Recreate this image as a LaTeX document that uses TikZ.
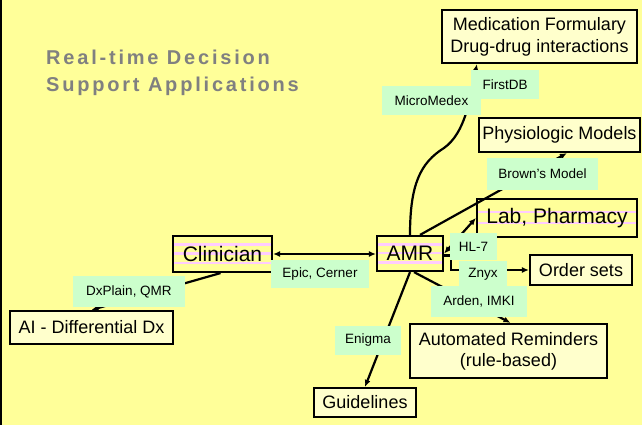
\documentclass[tikz,border=0pt]{standalone}
\usepackage{fontspec}
\setmainfont{Liberation Sans}
\newfontfamily\titlefont[LetterSpace=14]{Liberation Sans}
\usetikzlibrary{arrows.meta,calc}
\definecolor{bgyellow}{RGB}{255,255,153}
\definecolor{boxfill}{RGB}{255,255,204}
\definecolor{lblfill}{RGB}{204,255,204}
\definecolor{stripepink}{RGB}{255,204,255}
\definecolor{titlegray}{RGB}{128,128,128}
\begin{document}
\begin{tikzpicture}[x=1pt,y=-1pt,
  box/.style={draw=black,line width=2.2pt,fill=boxfill,inner sep=0pt,align=center,
    font=\fontsize{18}{22}\selectfont},
  sbox/.style={draw=black,line width=2.2pt,fill=bgyellow,inner sep=0pt,align=center,
    font=\fontsize{21}{24}\selectfont,
    path picture={\foreach \f in {#1}{
      \draw[stripepink,line width=2.5pt]
        ($(path picture bounding box.north west)!\f!(path picture bounding box.south west)$) --
        ($(path picture bounding box.north east)!\f!(path picture bounding box.south east)$);}}},
  lbl/.style={fill=lblfill,inner sep=0pt,font=\fontsize{13.5}{15}\selectfont},
  conn/.style={line width=2.2pt},
  arr/.style={conn,-{Latex[length=7pt,width=6pt]}},
  darr/.style={conn,{Latex[length=7pt,width=6pt]}-{Latex[length=7pt,width=6pt]}},
  ttl/.style={anchor=base west,inner sep=0pt,text=titlegray,font=\titlefont\bfseries\fontsize{20}{24}\selectfont}
]
% background
\fill[bgyellow] (0,0) rectangle (642,425);
\useasboundingbox (0,0) rectangle (642,425);
\draw[line width=1.5pt] (0.75,0) -- (0.75,425);

% title
\node[ttl] (title1) at (46,65) {Real-time Decision};
\node[ttl] (title2) at (46,91.5) {Support Applications};

% boxes
\node[box,minimum width=195pt,minimum height=53pt] (med) at (539.5,36.5) {Medication Formulary\\Drug-drug interactions};
\node[box,minimum width=161pt,minimum height=34pt] (phys) at (559.5,135) {Physiologic Models};
\node[sbox={0.34,0.63},minimum width=160pt,minimum height=38pt] (lab) at (557,218) {Lab, Pharmacy};
\node[sbox={0.24,0.49,0.75},minimum width=66pt,minimum height=35pt] (amr) at (410,253.5) {AMR};
\node[sbox={0.24,0.49,0.75},minimum width=99pt,minimum height=36pt] (clin) at (222.5,254) {Clinician};
\node[box,minimum width=102pt,minimum height=30pt] (orders) at (581,270) {Order sets};
\node[box,minimum width=197pt,minimum height=54pt,font=\fontsize{18}{21}\selectfont] (auto) at (508.5,351) {Automated Reminders\\(rule-based)};
\node[box,minimum width=102pt,minimum height=29pt] (guide) at (365,402.5) {Guidelines};
\node[box,minimum width=163pt,minimum height=33pt] (ai) at (91.5,327.5) {AI - Differential Dx};

% connectors
\draw[darr] (clin.east) -- (clin.east -| amr.west);
\draw[arr] ([xshift=-2pt]clin.south) -- (ai.north);
\draw[arr] (amr.north) .. controls (410,185) and (420,163) .. (444,148)
  .. controls (465,133) and (470,100) .. ([xshift=36pt]med.south west);
\draw[arr] ([xshift=10pt]amr.north) -- ([xshift=89pt]phys.south west);
\draw[darr] (amr.east) -- (lab.west);
\draw[arr] ([yshift=-2pt]amr.east) -- ++(7,0) |- (orders.west);
\draw[arr] ([xshift=4pt]amr.south) -- ([xshift=2pt]auto.north);
\draw[arr] (amr.south) -- (guide.north);

% labels
\node[lbl,minimum width=68pt,minimum height=29pt] (firstdb) at (505,84.5) {FirstDB};
\node[lbl,minimum width=99pt,minimum height=29pt] (micro) at (431.5,100.5) {MicroMedex};
\node[lbl,minimum width=111pt,minimum height=32pt] (brown) at (542.5,174) {Brown's Model};
\node[lbl,minimum width=47pt,minimum height=27pt] (hl7) at (473.5,246.5) {HL-7};
\node[lbl,minimum width=48pt,minimum height=26pt] (znyx) at (483,274) {Znyx};
\node[lbl,minimum width=96pt,minimum height=31pt] (arden) at (479,301.5) {Arden, IMKI};
\node[lbl,minimum width=66pt,minimum height=29pt] (enigma) at (368,340.5) {Enigma};
\node[lbl,minimum width=98pt,minimum height=28pt] (epic) at (320,274) {Epic, Cerner};
\node[lbl,minimum width=112pt,minimum height=31pt] (dxplain) at (129,291.5) {DxPlain, QMR};
\end{tikzpicture}
\end{document}
